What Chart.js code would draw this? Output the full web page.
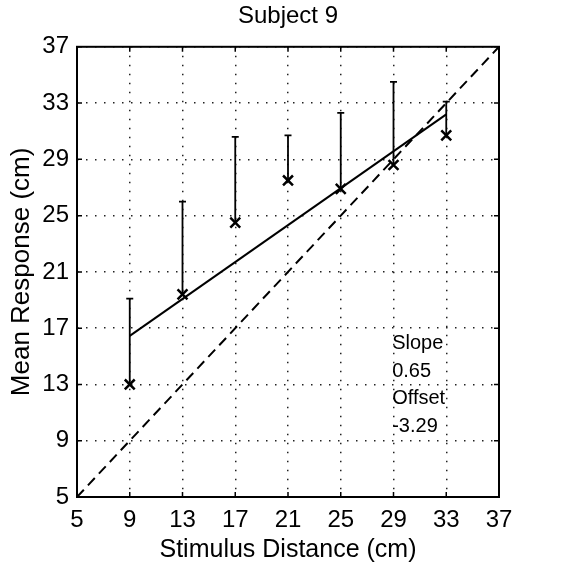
<!DOCTYPE html>
<html lang="en">
  <head>
    <meta charset="UTF-8" />
    <title>Subject 9</title>
    <script src="https://cdn.jsdelivr.net/npm/chart.js"></script>
    <style>
      body {
        margin: 0;
        background: #ffffff;
      }
      .wrap {
        width: 564px;
        height: 575px;
      }
    </style>
  </head>
  <body>
    <div class="wrap">
      <canvas id="subjectChart" width="564" height="575"></canvas>
    </div>

    <script>
      // values
      const distances = [9, 13, 17, 21, 25, 29, 33];
      const meanResponse = [13.0, 19.4, 24.5, 27.5, 26.9, 28.6, 30.7];
      const errorTop = [19.1, 26.0, 30.6, 30.7, 32.3, 34.5, 33.1];
      const fitX = [9, 33];
      const fitY = [16.45, 32.2];
      const unityX = [5, 37];
      const tickValues = [5, 9, 13, 17, 21, 25, 29, 33, 37];
      const noteLines = ['Slope', '0.65', 'Offset', '-3.29'];
      const noteX = 28.9;
      const noteY = [15.9, 13.9, 12.0, 10.0];

      const font = "'Liberation Sans', Arial, sans-serif";

      // error bars, frame, inner ticks and the slope note
      const extras = {
        id: 'extras',
        beforeDatasetsDraw(chart) {
          const { ctx, chartArea: a, scales } = chart;
          ctx.save();
          ctx.strokeStyle = '#000';
          ctx.lineWidth = 2;
          ctx.strokeRect(a.left, a.top, a.right - a.left, a.bottom - a.top);
          ctx.lineWidth = 1.5;
          tickValues.forEach(v => {
            const px = scales.x.getPixelForValue(v);
            const py = scales.y.getPixelForValue(v);
            ctx.beginPath();
            ctx.moveTo(px, a.bottom); ctx.lineTo(px, a.bottom - 5);
            ctx.moveTo(px, a.top); ctx.lineTo(px, a.top + 5);
            ctx.moveTo(a.left, py); ctx.lineTo(a.left + 5, py);
            ctx.moveTo(a.right, py); ctx.lineTo(a.right - 5, py);
            ctx.stroke();
          });
          ctx.restore();
        },
        afterDatasetsDraw(chart) {
          const { ctx, scales } = chart;
          ctx.save();
          ctx.strokeStyle = '#000';
          ctx.lineWidth = 1.8;
          distances.forEach((d, i) => {
            const px = scales.x.getPixelForValue(d);
            const y0 = scales.y.getPixelForValue(meanResponse[i]);
            const y1 = scales.y.getPixelForValue(errorTop[i]);
            ctx.beginPath();
            ctx.moveTo(px, y0); ctx.lineTo(px, y1);
            ctx.moveTo(px - 3.5, y1); ctx.lineTo(px + 3.5, y1);
            ctx.stroke();
          });
          ctx.fillStyle = '#000';
          ctx.font = '20px ' + font;
          ctx.textAlign = 'left';
          ctx.textBaseline = 'middle';
          noteLines.forEach((t, i) => {
            ctx.fillText(t, scales.x.getPixelForValue(noteX), scales.y.getPixelForValue(noteY[i]));
          });
          ctx.restore();
        }
      };

      const gridStyle = {
        color: '#222',
        lineWidth: 1.5,
        drawTicks: false
      };
      const dotted = { display: false, dash: [1.5, 7.5] };

      new Chart(document.getElementById('subjectChart'), {
        type: 'scatter',
        data: {
          datasets: [
            {
              label: 'unity',
              data: unityX.map(v => ({ x: v, y: v })),
              showLine: true,
              borderColor: '#000',
              borderWidth: 2,
              borderDash: [10, 6],
              pointRadius: 0
            },
            {
              label: 'fit',
              data: fitX.map((v, i) => ({ x: v, y: fitY[i] })),
              showLine: true,
              borderColor: '#000',
              borderWidth: 2,
              pointRadius: 0
            },
            {
              label: 'mean',
              data: distances.map((v, i) => ({ x: v, y: meanResponse[i] })),
              pointStyle: 'crossRot',
              pointRadius: 7,
              borderColor: '#000',
              borderWidth: 2.5
            }
          ]
        },
        plugins: [extras],
        options: {
          responsive: false,
          animation: false,
          layout: { padding: { left: 0, right: 65, top: 0, bottom: 0 } },
          plugins: {
            legend: { display: false },
            tooltip: { enabled: false },
            title: {
              display: true,
              fullSize: false,
              text: 'Subject 9',
              color: '#000',
              font: { family: font, size: 24, weight: 'normal' },
              padding: { top: 2, bottom: 16 }
            }
          },
          scales: {
            x: {
              type: 'linear',
              min: 5,
              max: 37,
              afterBuildTicks: s => { s.ticks = tickValues.map(v => ({ value: v })); },
              afterFit: s => { s.height = 78; },
              grid: gridStyle,
              border: dotted,
              ticks: { color: '#000', padding: 9, font: { family: font, size: 24 } },
              title: {
                display: true,
                text: 'Stimulus Distance (cm)',
                color: '#000',
                font: { family: font, size: 25 },
                padding: { top: 0, bottom: 10 }
              }
            },
            y: {
              type: 'linear',
              min: 5,
              max: 37,
              afterBuildTicks: s => { s.ticks = tickValues.map(v => ({ value: v })); },
              afterFit: s => { s.width = 77; },
              grid: gridStyle,
              border: dotted,
              ticks: { color: '#000', padding: 8, font: { family: font, size: 24 } },
              title: {
                display: true,
                text: 'Mean Response (cm)',
                color: '#000',
                font: { family: font, size: 26 },
                padding: { top: 6 }
              }
            }
          }
        }
      });
    </script>
  </body>
</html>
